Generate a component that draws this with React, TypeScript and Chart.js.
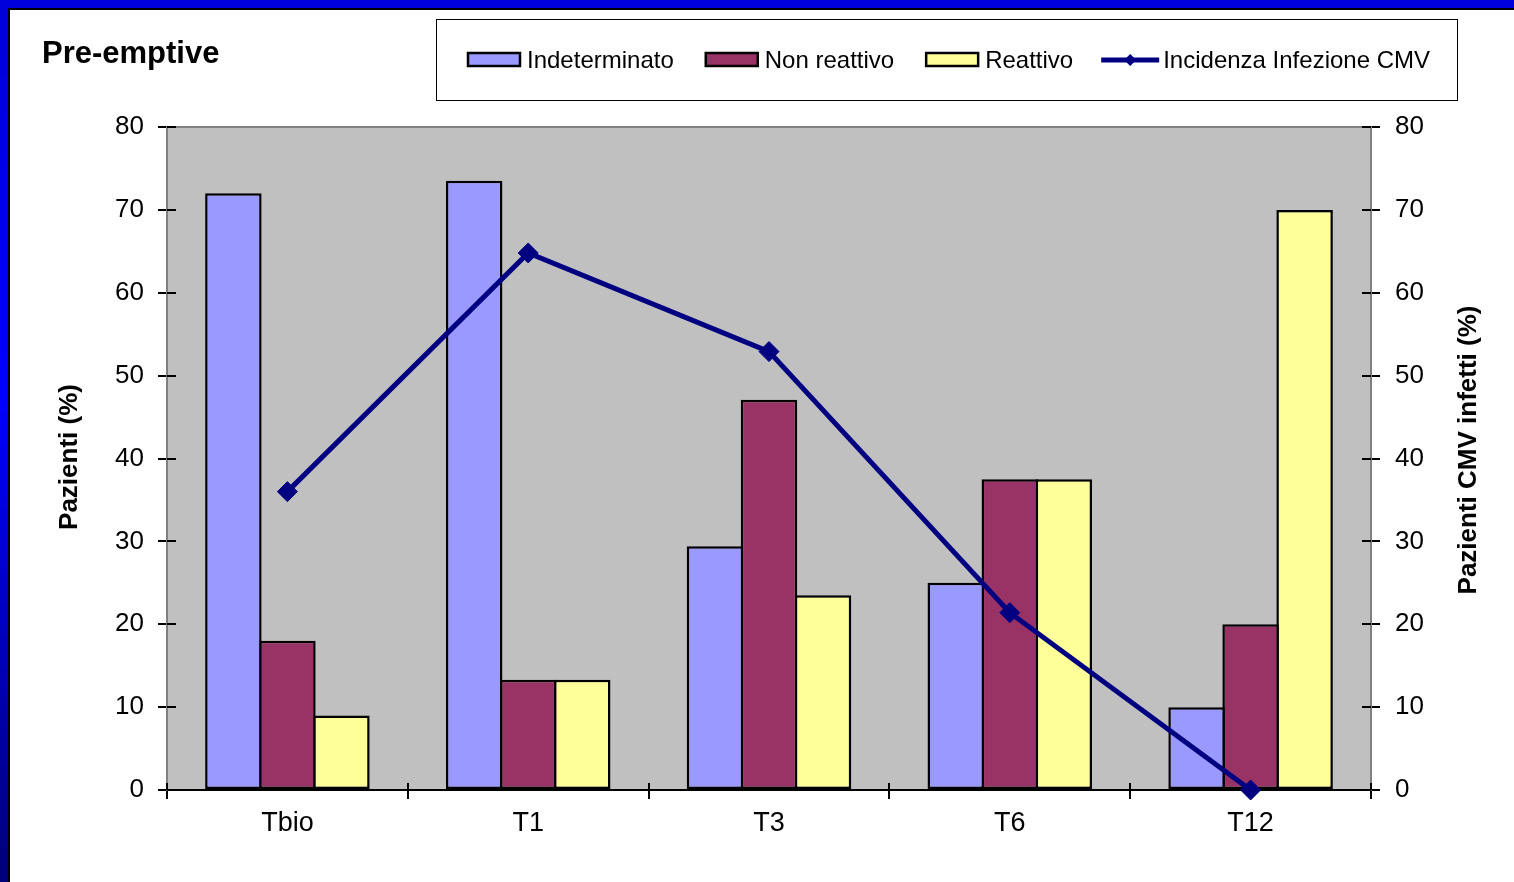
import React, { useEffect, useRef } from "react";
import { Chart, registerables } from "chart.js";

Chart.register(...registerables);

const FONT = "'Liberation Sans', Arial, Helvetica, sans-serif";

// Time points of the follow-up
const categories = ["Tbio", "T1", "T3", "T6", "T12"];

// Share of patients (%) by test outcome
const indeterminato = [72, 73.5, 29.4, 25, 10];
const nonReattivo = [18, 13.3, 47.1, 37.5, 20];
const reattivo = [9, 13.3, 23.5, 37.5, 70];

// Share of patients with CMV infection (%)
const incidenzaCMV = [36, 64.8, 52.9, 21.4, 0];

// Axis range shared by both value axes
const axisMin = 0;
const axisMax = 80;
const axisStep = 10;

const chartTitle = "Pre-emptive";
const leftAxisTitle = "Pazienti (%)";
const rightAxisTitle = "Pazienti CMV infetti (%)";

const COLORS = {
  indeterminato: "#9999ff",
  nonReattivo: "#993366",
  reattivo: "#ffff99",
  line: "#000080",
  plot: "#c0c0c0",
  plotEdge: "#808080",
};

// Slide frame, plot background, inner tick halves, title, boxed legend and axis titles
const decorations = {
  id: "decorations",
  beforeDraw(chart: any) {
    const { ctx, width, height, chartArea } = chart;
    ctx.save();
    ctx.fillStyle = "#ffffff";
    ctx.fillRect(0, 0, width, height);

    ctx.fillStyle = "#0000dd";
    ctx.fillRect(0, 0, width, 8);
    const g = ctx.createLinearGradient(0, 0, 0, height);
    g.addColorStop(0, "#0000d8");
    g.addColorStop(0.45, "#0000ff");
    g.addColorStop(1, "#000078");
    ctx.fillStyle = g;
    ctx.fillRect(0, 8, 8, height - 8);
    ctx.fillStyle = "#000000";
    ctx.fillRect(8, 8, width - 8, 2);
    ctx.fillRect(8, 8, 2, height - 8);

    ctx.fillStyle = COLORS.plot;
    ctx.fillRect(chartArea.left, chartArea.top, chartArea.right - chartArea.left, chartArea.bottom - chartArea.top);
    ctx.restore();
  },
  beforeDatasetsDraw(chart: any) {
    const { ctx, chartArea, scales } = chart;
    ctx.save();
    // top edge of the plot area
    ctx.strokeStyle = COLORS.plotEdge;
    ctx.lineWidth = 2;
    ctx.beginPath();
    ctx.moveTo(chartArea.left, chartArea.top);
    ctx.lineTo(chartArea.right, chartArea.top);
    ctx.stroke();

    // tick marks reach a little into the plot area
    ctx.strokeStyle = "#000000";
    ctx.lineWidth = 2;
    ctx.beginPath();
    for (let v = axisMin; v <= axisMax; v += axisStep) {
      const yl = Math.round(scales.y.getPixelForValue(v));
      ctx.moveTo(chartArea.left, yl);
      ctx.lineTo(chartArea.left + 9, yl);
      const yr = Math.round(scales.y1.getPixelForValue(v));
      ctx.moveTo(chartArea.right - 9, yr);
      ctx.lineTo(chartArea.right, yr);
    }
    for (let i = 0; i <= categories.length; i++) {
      const x = Math.round(scales.x.getPixelForValue(i - 0.5));
      ctx.moveTo(x, chartArea.bottom);
      ctx.lineTo(x, chartArea.bottom - 7);
    }
    ctx.stroke();
    ctx.restore();
  },
  afterDraw(chart: any) {
    const { ctx } = chart;
    ctx.save();
    ctx.fillStyle = "#000000";
    ctx.textAlign = "left";
    ctx.textBaseline = "alphabetic";
    ctx.font = `bold 31px ${FONT}`;
    ctx.fillText(chartTitle, 42, 63);

    // legend box
    ctx.strokeStyle = "#000000";
    ctx.lineWidth = 1;
    ctx.strokeRect(436.5, 19.5, 1021, 81);

    ctx.font = `24px ${FONT}`;
    ctx.textBaseline = "middle";
    const cy = 60;
    let x = 468;
    chart.data.datasets.forEach((ds: any) => {
      if (ds.type === "line") {
        ctx.strokeStyle = ds.borderColor;
        ctx.lineWidth = 5;
        ctx.beginPath();
        ctx.moveTo(x - 4, cy);
        ctx.lineTo(x + 54, cy);
        ctx.stroke();
        ctx.fillStyle = ds.borderColor;
        ctx.beginPath();
        const cx = x + 25;
        ctx.moveTo(cx, cy - 6);
        ctx.lineTo(cx + 6, cy);
        ctx.lineTo(cx, cy + 6);
        ctx.lineTo(cx - 6, cy);
        ctx.closePath();
        ctx.fill();
        ctx.fillStyle = "#000000";
        ctx.fillText(ds.label, x + 58, cy + 1);
        x += 58 + ctx.measureText(ds.label).width + 32;
      } else {
        ctx.fillStyle = ds.backgroundColor;
        ctx.fillRect(x, cy - 7, 52, 13);
        ctx.strokeStyle = "#000000";
        ctx.lineWidth = 2.5;
        ctx.strokeRect(x, cy - 7, 52, 13);
        ctx.fillStyle = "#000000";
        ctx.fillText(ds.label, x + 59, cy + 1);
        x += 59 + ctx.measureText(ds.label).width + 32;
      }
    });

    // axis titles, both reading bottom to top
    ctx.font = `bold 26px ${FONT}`;
    ctx.textAlign = "center";
    ctx.textBaseline = "alphabetic";
    ctx.save();
    ctx.translate(77, 457);
    ctx.rotate(-Math.PI / 2);
    ctx.fillText(leftAxisTitle, 0, 0);
    ctx.restore();
    ctx.save();
    ctx.translate(1476, 450);
    ctx.rotate(-Math.PI / 2);
    ctx.fillText(rightAxisTitle, 0, 0);
    ctx.restore();
    ctx.restore();
  },
};

// Neighbouring bars overlap by one border width so shared edges stay a single line
const BAR_BORDER = 2.5;

function barSet(label: string, data: number[], color: string) {
  return {
    type: "bar" as const,
    label,
    data,
    backgroundColor: color,
    borderColor: "#000000",
    borderWidth: BAR_BORDER,
    borderSkipped: false,
    inflateAmount: 0,
    yAxisID: "y",
    order: 1,
    categoryPercentage: 0.673,
    barPercentage: 1.046,
  };
}

export default function App() {
  const canvasRef = useRef<HTMLCanvasElement | null>(null);

  useEffect(() => {
    document.body.style.margin = "0";
    const canvas = canvasRef.current;
    if (!canvas) return;
    const tickFont = { family: FONT, size: 26 };
    const chart = new Chart(canvas, {
      type: "bar",
      data: {
        labels: categories,
        datasets: [
          barSet("Indeterminato", indeterminato, COLORS.indeterminato),
          barSet("Non reattivo", nonReattivo, COLORS.nonReattivo),
          barSet("Reattivo", reattivo, COLORS.reattivo),
          {
            type: "line" as const,
            label: "Incidenza Infezione CMV",
            data: incidenzaCMV,
            borderColor: COLORS.line,
            backgroundColor: COLORS.line,
            borderWidth: 5,
            tension: 0,
            pointStyle: "rectRot",
            pointRadius: 10,
            pointBackgroundColor: COLORS.line,
            pointBorderColor: COLORS.line,
            pointBorderWidth: 1,
            yAxisID: "y1",
            order: 0,
            clip: false,
          } as any,
        ],
      },
      plugins: [decorations],
      options: {
        responsive: false,
        animation: false,
        devicePixelRatio: 1,
        layout: { padding: { top: 127, left: 0, right: 0, bottom: 0 } },
        plugins: {
          legend: { display: false },
          title: { display: false },
          tooltip: { enabled: false },
        },
        scales: {
          x: {
            type: "category",
            offset: true,
            grid: {
              offset: true,
              drawOnChartArea: false,
              drawTicks: true,
              tickLength: 9,
              tickColor: "#000000",
              lineWidth: 2,
            },
            border: { display: true, color: "#000000", width: 2 },
            ticks: { color: "#000000", font: { family: FONT, size: 27 }, padding: 8, maxRotation: 0 },
            afterFit(scale: any) {
              scale.height = 92;
            },
          },
          y: {
            type: "linear",
            position: "left",
            min: axisMin,
            max: axisMax,
            ticks: { stepSize: axisStep, color: "#000000", font: tickFont, padding: 14 },
            grid: {
              drawOnChartArea: false,
              tickLength: 9,
              tickColor: "#000000",
              lineWidth: 2,
            },
            border: { display: true, color: COLORS.plotEdge, width: 2 },
            afterFit(scale: any) {
              scale.width = 167;
            },
          },
          y1: {
            type: "linear",
            position: "right",
            min: axisMin,
            max: axisMax,
            ticks: { stepSize: axisStep, color: "#000000", font: tickFont, padding: 15 },
            grid: {
              drawOnChartArea: false,
              tickLength: 9,
              tickColor: "#000000",
              lineWidth: 2,
            },
            border: { display: true, color: COLORS.plotEdge, width: 2 },
            afterFit(scale: any) {
              scale.width = 143;
            },
          },
        },
      } as any,
    });
    return () => {
      chart.destroy();
    };
  }, []);

  return (
    <div style={{ width: 1514, height: 882 }}>
      <canvas ref={canvasRef} width={1514} height={882} style={{ display: "block" }} />
    </div>
  );
}
